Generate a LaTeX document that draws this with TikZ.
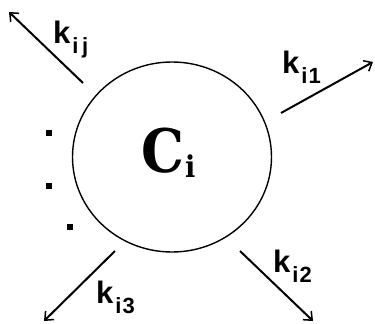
\documentclass[tikz,border=0pt]{standalone}
\usepackage{fontspec}
\setmainfont{Liberation Sans}
\newfontfamily\cfont{DejaVu Serif Condensed}
\usetikzlibrary{arrows.meta,shapes.geometric}
\tikzset{
  flow/.style={line width=2pt,-{Straight Barb[length=7pt,width=12pt,line width=1.5pt]}},
  klab/.style={anchor=base west,inner sep=0pt,font=\fontsize{31}{31}\selectfont\bfseries},
  dotsq/.style={fill=black,minimum size=5.5pt,inner sep=0pt}
}
\newcommand{\ksub}[1]{k\kern2pt\raisebox{-10pt}{\fontsize{22}{22}\selectfont\bfseries #1}}
\begin{document}
\begin{tikzpicture}[x=1pt,y=-1pt]
\useasboundingbox (0,0) rectangle (375,324);
\node[ellipse,draw,line width=1.4pt,minimum width=199pt,minimum height=190pt,inner sep=0pt] (c) at (172,157) {};
\node[anchor=base west,inner sep=0pt] (ci) at (141,172) {\cfont\bfseries\fontsize{60}{60}\selectfont C\kern1pt\raisebox{-5pt}{\fontsize{30}{30}\selectfont i}};
\coordinate (s1) at (83,83);  \coordinate (e1) at (9,12);
\coordinate (s2) at (281,113); \coordinate (e2) at (373,62);
\coordinate (s3) at (240,251); \coordinate (e3) at (313,321);
\coordinate (s4) at (115,251); \coordinate (e4) at (44,321);
\draw[flow] (s1) -- (e1);
\draw[flow] (s2) -- (e2);
\draw[flow] (s3) -- (e3);
\draw[flow] (s4) -- (e4);
\node[klab] (lij) at (53,43) {\ksub{i\,j}};
\node[klab] (li1) at (282,73) {\ksub{i\kern1pt1}};
\node[klab] (li2) at (273,272) {\ksub{i\kern1pt2}};
\node[klab] (li3) at (96,303) {\ksub{i\kern1pt3}};
\node[dotsq] (d1) at (49,133) {};
\node[dotsq] (d2) at (49,186) {};
\node[dotsq] (d3) at (70,227) {};
\end{tikzpicture}
\end{document}
